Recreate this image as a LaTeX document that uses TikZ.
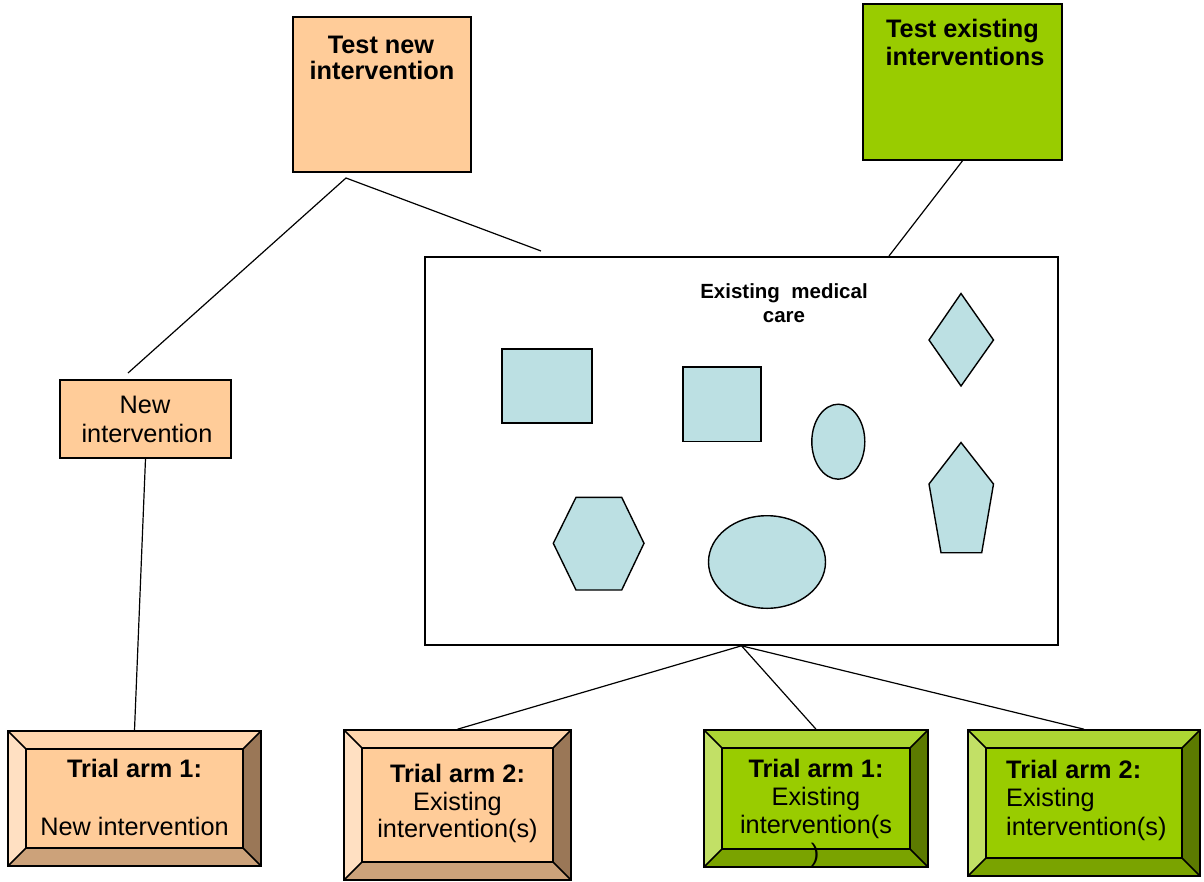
\documentclass[tikz,border=0pt]{standalone}
\usepackage{fontspec}
\setmainfont{Liberation Sans}
\usetikzlibrary{fit}

% palettes
\definecolor{orMain}{HTML}{FFCC99}
\definecolor{orTop}{HTML}{FFD6AD}
\definecolor{orLeft}{HTML}{FFE0C2}
\definecolor{orRight}{HTML}{9A7757}
\definecolor{orBottom}{HTML}{CCA27A}
\definecolor{grMain}{HTML}{99CC00}
\definecolor{grTop}{HTML}{ADD633}
\definecolor{grLeft}{HTML}{C2E066}
\definecolor{grRight}{HTML}{5C7A00}
\definecolor{grBottom}{HTML}{7AA300}
\definecolor{careblue}{HTML}{BCE0E3}

\tikzset{
  conn/.style={line width=1.2pt},
  rim/.style={line width=1.6pt},
  plainbox/.style={draw, line width=1.6pt, inner sep=0pt},
  careshape/.style={draw, line width=1.4pt, fill=careblue},
  txt/.style={anchor=base, inner sep=0pt, font=\fontsize{25.3}{28}\selectfont},
  txtb/.style={anchor=base, inner sep=0pt, font=\fontsize{25.3}{28}\selectfont\bfseries},
  txts/.style={anchor=base, inner sep=0pt, font=\fontsize{20.5}{24}\selectfont\bfseries}
}

% bevelled box: name, top-left x,y, bottom-right x,y, bevel, palette
\newcommand\bevelbox[7]{%
  \fill[#7Main] (#2,#3) rectangle (#4,#5);
  \fill[#7Top] (#2,#3) -- (#4,#3) -- (#4-#6,#3+#6) -- (#2+#6,#3+#6) -- cycle;
  \fill[#7Left] (#2,#3) -- (#2+#6,#3+#6) -- (#2+#6,#5-#6) -- (#2,#5) -- cycle;
  \fill[#7Right] (#4,#3) -- (#4,#5) -- (#4-#6,#5-#6) -- (#4-#6,#3+#6) -- cycle;
  \fill[#7Bottom] (#2,#5) -- (#4,#5) -- (#4-#6,#5-#6) -- (#2+#6,#5-#6) -- cycle;
  \draw[rim] (#2+#6,#3+#6) rectangle (#4-#6,#5-#6);
  \draw[rim] (#2,#3) -- (#2+#6,#3+#6) (#4,#3) -- (#4-#6,#3+#6)
             (#4,#5) -- (#4-#6,#5-#6) (#2,#5) -- (#2+#6,#5-#6);
  \path (#2,#3) coordinate (#1-nw) (#4,#5) coordinate (#1-se);
  \node[fit=(#1-nw)(#1-se), inner sep=0pt, draw, rim] (#1) {};
}

\begin{document}
\begin{tikzpicture}[x=1pt,y=-1pt]
\useasboundingbox[fill=white] (0,0) rectangle (1204,881);

% top boxes
\node[plainbox, fill=orMain, minimum width=178pt, minimum height=155pt] (testnew) at (382,94.5) {};
\node[txtb] (testnewA) at (381,53) {Test new};
\node[txtb] (testnewB) at (382,79) {intervention};

\node[plainbox, fill=grMain, minimum width=199pt, minimum height=156pt] (testexist) at (962.5,82) {};
\node[txtb] (testexistA) at (962.5,37) {Test existing};
\node[txtb] (testexistB) at (965,65) {interventions};

% new intervention
\node[plainbox, fill=orMain, minimum width=171pt, minimum height=78pt] (newint) at (145.5,419) {};
\node[txt] (newintA) at (145,413.5) {New};
\node[txt] (newintB) at (147,442) {intervention};

% existing medical care
\node[plainbox, fill=white, minimum width=633pt, minimum height=388pt] (care) at (741.5,451) {};
\node[txts] (careA) at (784,298) {Existing~~medical};
\node[txts] (careB) at (784,322) {care};

\draw[careshape] (502,349) rectangle (592,423);
\draw[careshape] (683,367) rectangle (761,441.5);
\draw[careshape] (838.3,441.7) ellipse [x radius=26.5pt, y radius=37.5pt];
\draw[careshape] (961,293.5) -- (993.5,340) -- (961,386) -- (929,340) -- cycle;
\draw[careshape] (961,442.5) -- (993.5,484) -- (981.7,552.7) -- (941,552.7) -- (929,484) -- cycle;
\draw[careshape] (576,497.3) -- (621.7,497.3) -- (644,543.3) -- (621.7,590) -- (576,590) -- (553.3,543.3) -- cycle;
\draw[careshape] (767,562) ellipse [x radius=58.5pt, y radius=46.3pt];

% trial arms
\bevelbox{armA}{8}{731}{261}{866}{18}{or}
\node[txtb] (armAa) at (134.5,777) {Trial arm 1:};
\node[txt] (armAb) at (134.5,835) {New intervention};

\bevelbox{armB}{344}{730}{571}{880}{18}{or}
\node[txtb] (armBa) at (457.5,782) {Trial arm 2:};
\node[txt] (armBb) at (457.5,810) {Existing};
\node[txt] (armBc) at (457.5,837.5) {intervention(s)};

\bevelbox{armC}{704}{730}{928}{867}{18}{gr}
\node[txtb] (armCa) at (816,777) {Trial arm 1:};
\node[txt] (armCb) at (816,805) {Existing};
\node[txt] (armCc) at (816,833) {intervention(s};
\node[txt] (armCd) at (815,861) {)};

\bevelbox{armD}{968}{730}{1200}{876}{18}{gr}
\node[txtb, anchor=base west] (armDa) at (1006,778) {Trial arm 2:};
\node[txt, anchor=base west] (armDb) at (1006,806.5) {Existing};
\node[txt, anchor=base west] (armDc) at (1006,835) {intervention(s)};

% connectors
\coordinate (fork) at (346,178);
\coordinate (forkL) at (128,373);
\coordinate (forkR) at (541,251);
\coordinate (careTop) at (889,256);
\draw[conn] (forkL) -- (fork) -- (forkR);
\draw[conn] (testexist.south) -- (careTop);
\draw[conn] (newint.south) -- (armA.north);
\draw[conn] (armB.north) -- (care.south) -- (armC.north);
\draw[conn] (care.south) -- (armD.north);
\end{tikzpicture}
\end{document}
